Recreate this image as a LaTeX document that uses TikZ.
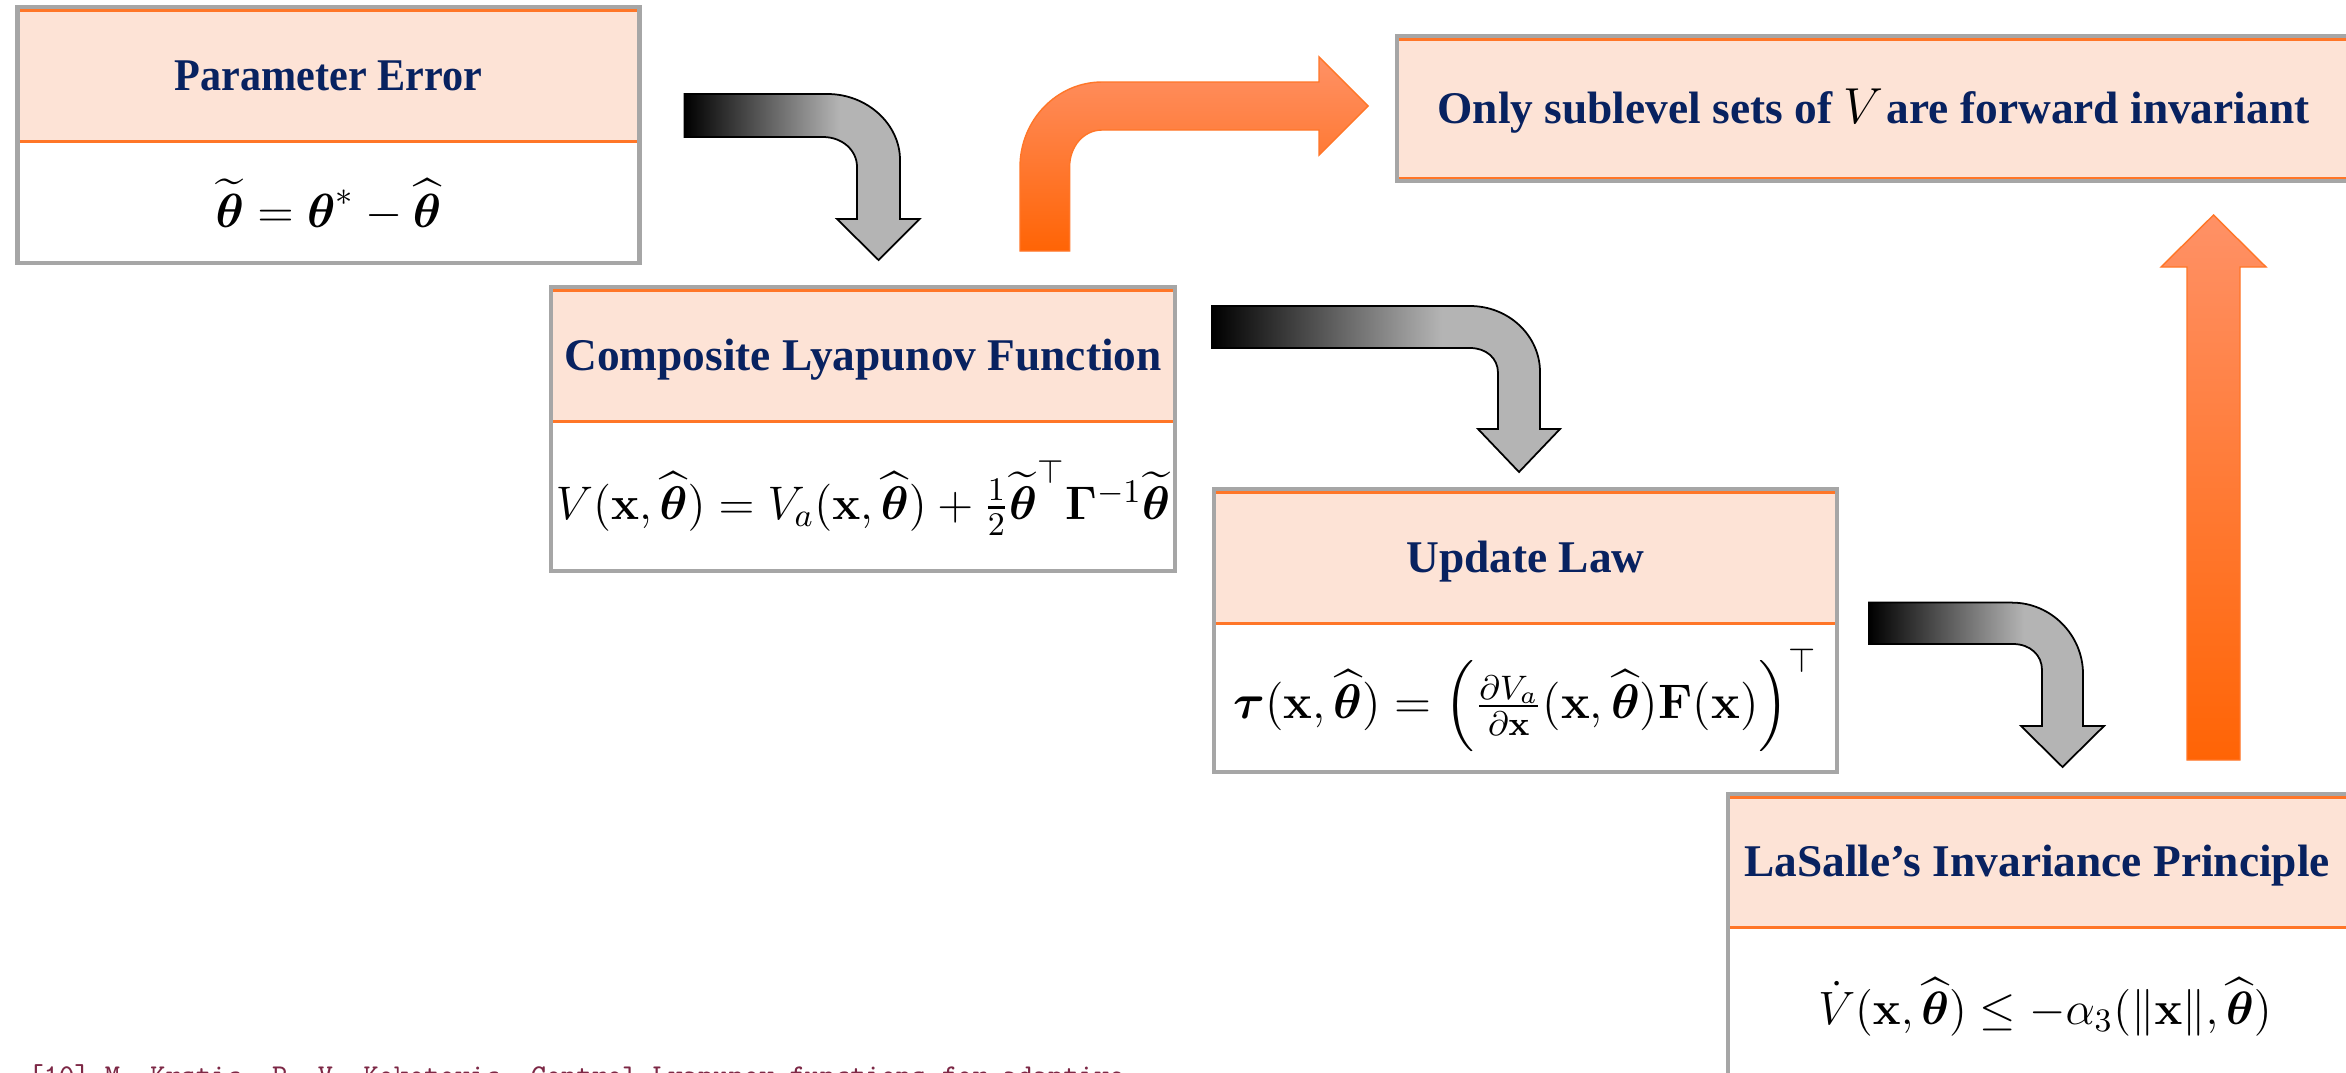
\RequirePackage{fix-cm}
\documentclass[tikz,border=0pt]{standalone}
\usepackage{amsmath}
\usepackage{graphicx}
\usepackage[no-math]{fontspec}
\newfontfamily\ttlfam{Liberation Serif}
\usetikzlibrary{calc}
\definecolor{peach}{RGB}{253,227,214}
\definecolor{orl}{RGB}{255,118,40}
\definecolor{frm}{RGB}{166,166,166}
\definecolor{navy}{RGB}{8,34,96}
\definecolor{maroon}{RGB}{125,40,70}
\definecolor{arrgray}{RGB}{180,180,180}
\definecolor{orlight}{RGB}{255,145,102}
\definecolor{ordark}{RGB}{255,100,5}
\pgfdeclarehorizontalshading{grayfade}{100bp}{color(0bp)=(black); color(25bp)=(black); color(58bp)=(arrgray); color(100bp)=(arrgray)}
\newcommand\ttlfont{\ttlfam\bfseries\fontsize{12.9pt}{15pt}\selectfont}
\newcommand\ttl[2][1]{\scalebox{#1}[1]{\ttlfont #2}}
\newcommand\mkbox[6]{%
  \node[hdr, anchor=north west, minimum width={#4*0.01cm}, minimum height={#5*0.01cm}] (#1-h) at (#2,#3) {};
  \node[bdy, anchor=north west, minimum width={#4*0.01cm}, minimum height={#6*0.01cm}] (#1-b) at (#1-h.south west) {};
  \draw[orline] ($(#1-h.north west)+(0,1.5)$) -- ($(#1-h.north east)+(0,1.5)$);
  \draw[orline] (#1-h.south west) -- (#1-h.south east);
  \draw[frame] ($(#1-h.north west)+(-2,-2)$) rectangle ($(#1-b.south east)+(2,2)$);
}
\begin{document}
\begin{tikzpicture}[x=0.01cm, y=-0.01cm,
  hdr/.style={rectangle, fill=peach, inner sep=0pt, outer sep=0pt},
  bdy/.style={rectangle, fill=white, inner sep=0pt, outer sep=0pt},
  orline/.style={draw=orl, line width=0.85pt},
  frame/.style={draw=frm, line width=1.15pt},
  ttlnode/.style={text=navy, inner sep=0pt, anchor=base},
  mathnode/.style={inner sep=0pt, font=\fontsize{#1}{17pt}\selectfont},
  mathnode/.default=13.5pt,
  garrow/.style={draw=black, line width=0.5pt, shading=grayfade},
  oarrow/.style={draw=orl, line width=0.4pt, top color=orlight, bottom color=ordark}]
\fill[white] (0,0) rectangle (2346,1072);
\useasboundingbox (0,0) rectangle (2346,1072);

% boxes
\mkbox{pe}{19.5}{9}{618}{132}{120}
\mkbox{cl}{553}{289}{620}{132}{148}
\mkbox{ul}{1216}{491}{619}{132}{147}
\mkbox{ls}{1730}{796}{620}{131}{148}
\mkbox{sl}{1399}{38}{951}{140}{1}

% titles
\node[ttlnode] (pe-t) at ($(pe-h.center)+(0,15)$) {\ttl[0.93]{Parameter Error}};
\node[ttlnode] (cl-t) at ($(cl-h.center)+(0,15)$) {\ttl{Composite Lyapunov Function}};
\node[ttlnode] (ul-t) at ($(ul-h.center)+(0,15)$) {\ttl{Update Law}};
\node[ttlnode] (ls-t) at ($(ls-h.center)+(-3,15)$) {\ttl{LaSalle’s Invariance Principle}};
\node[ttlnode] (sl-t) at ($(sl-h.center)+(-1,15)$) {\ttl{Only sublevel sets of {\color{black}\fontsize{14.4pt}{17pt}\selectfont$V$}\kern1pt are forward invariant}};

% formulas
\node[mathnode=13.6pt] (pe-f) at ($(pe-b.center)+(0,4)$) {$\widetilde{\boldsymbol\theta} = \boldsymbol\theta^{*} - \widehat{\boldsymbol\theta}$};
\node[mathnode=13.4pt] (cl-f) at ($(cl-b.center)+(0,3)$) {$V(\mathbf{x},\widehat{\boldsymbol\theta}) = V_a(\mathbf{x},\widehat{\boldsymbol\theta}) + \tfrac{1}{2}\widetilde{\boldsymbol\theta}^{\top}\mathbf{\Gamma}^{-1}\widetilde{\boldsymbol\theta}$};
\node[mathnode=13.8pt] (ul-f) at ($(ul-b.center)+(0,4)$) {$\boldsymbol\tau(\mathbf{x},\widehat{\boldsymbol\theta}) = \left(\tfrac{\partial V_a}{\partial \mathbf{x}}(\mathbf{x},\widehat{\boldsymbol\theta})\mathbf{F}(\mathbf{x})\right)^{\top}$};
\node[mathnode=13.3pt] (ls-f) at ($(ls-b.center)+(5,6)$) {$\dot V(\mathbf{x},\widehat{\boldsymbol\theta}) \le -\alpha_3(\|\mathbf{x}\|,\widehat{\boldsymbol\theta})$};

% gray bent arrows
\draw[garrow] (684.5,94) -- (827.5,94) .. controls (867,94) and (900,124) .. (900,160) -- (900,219) -- (919.5,219) -- (878.5,260) -- (837,219) -- (857,219) -- (857,167) .. controls (857,150) and (842,137) .. (823,137) -- (684.5,137) -- cycle;
\draw[garrow] (1212,306) -- (1470,306) .. controls (1509,306) and (1540,336) .. (1540,372) -- (1540,429) -- (1560,429) -- (1519,472) -- (1478,429) -- (1498,429) -- (1498,373) .. controls (1498,358) and (1486,348) .. (1470,348) -- (1212,348) -- cycle;
\draw[garrow] (1869,602.6) -- (2012,602.6) .. controls (2051,602.6) and (2083,635) .. (2083,674) -- (2083,726) -- (2104,726) -- (2062.5,767) -- (2021,726) -- (2042,726) -- (2042,670) .. controls (2042,655) and (2030,644) .. (2013,644) -- (1869,644) -- cycle;

% orange arrows
\draw[oarrow] (1020,251) -- (1020,167) .. controls (1020,120) and (1057,82) .. (1102,82) -- (1319,82) -- (1319,57) -- (1368,106) -- (1319,155) -- (1319,130) -- (1102,130) .. controls (1084,130) and (1069.6,146) .. (1069.6,167) -- (1069.6,251) -- cycle;
\draw[oarrow] (2187,760) -- (2187,267) -- (2161,267) -- (2213.5,215) -- (2266,267) -- (2240,267) -- (2240,760) -- cycle;

% footnote (cut off at the bottom)
\node[anchor=base west, inner sep=0pt, text=maroon, font=\ttfamily\fontsize{8.15pt}{10pt}\selectfont] (fn) at (28,1084) {[10] M. Krstic, P. V. Kokotovic, Control Lyapunov functions for adaptive};
\end{tikzpicture}
\end{document}
